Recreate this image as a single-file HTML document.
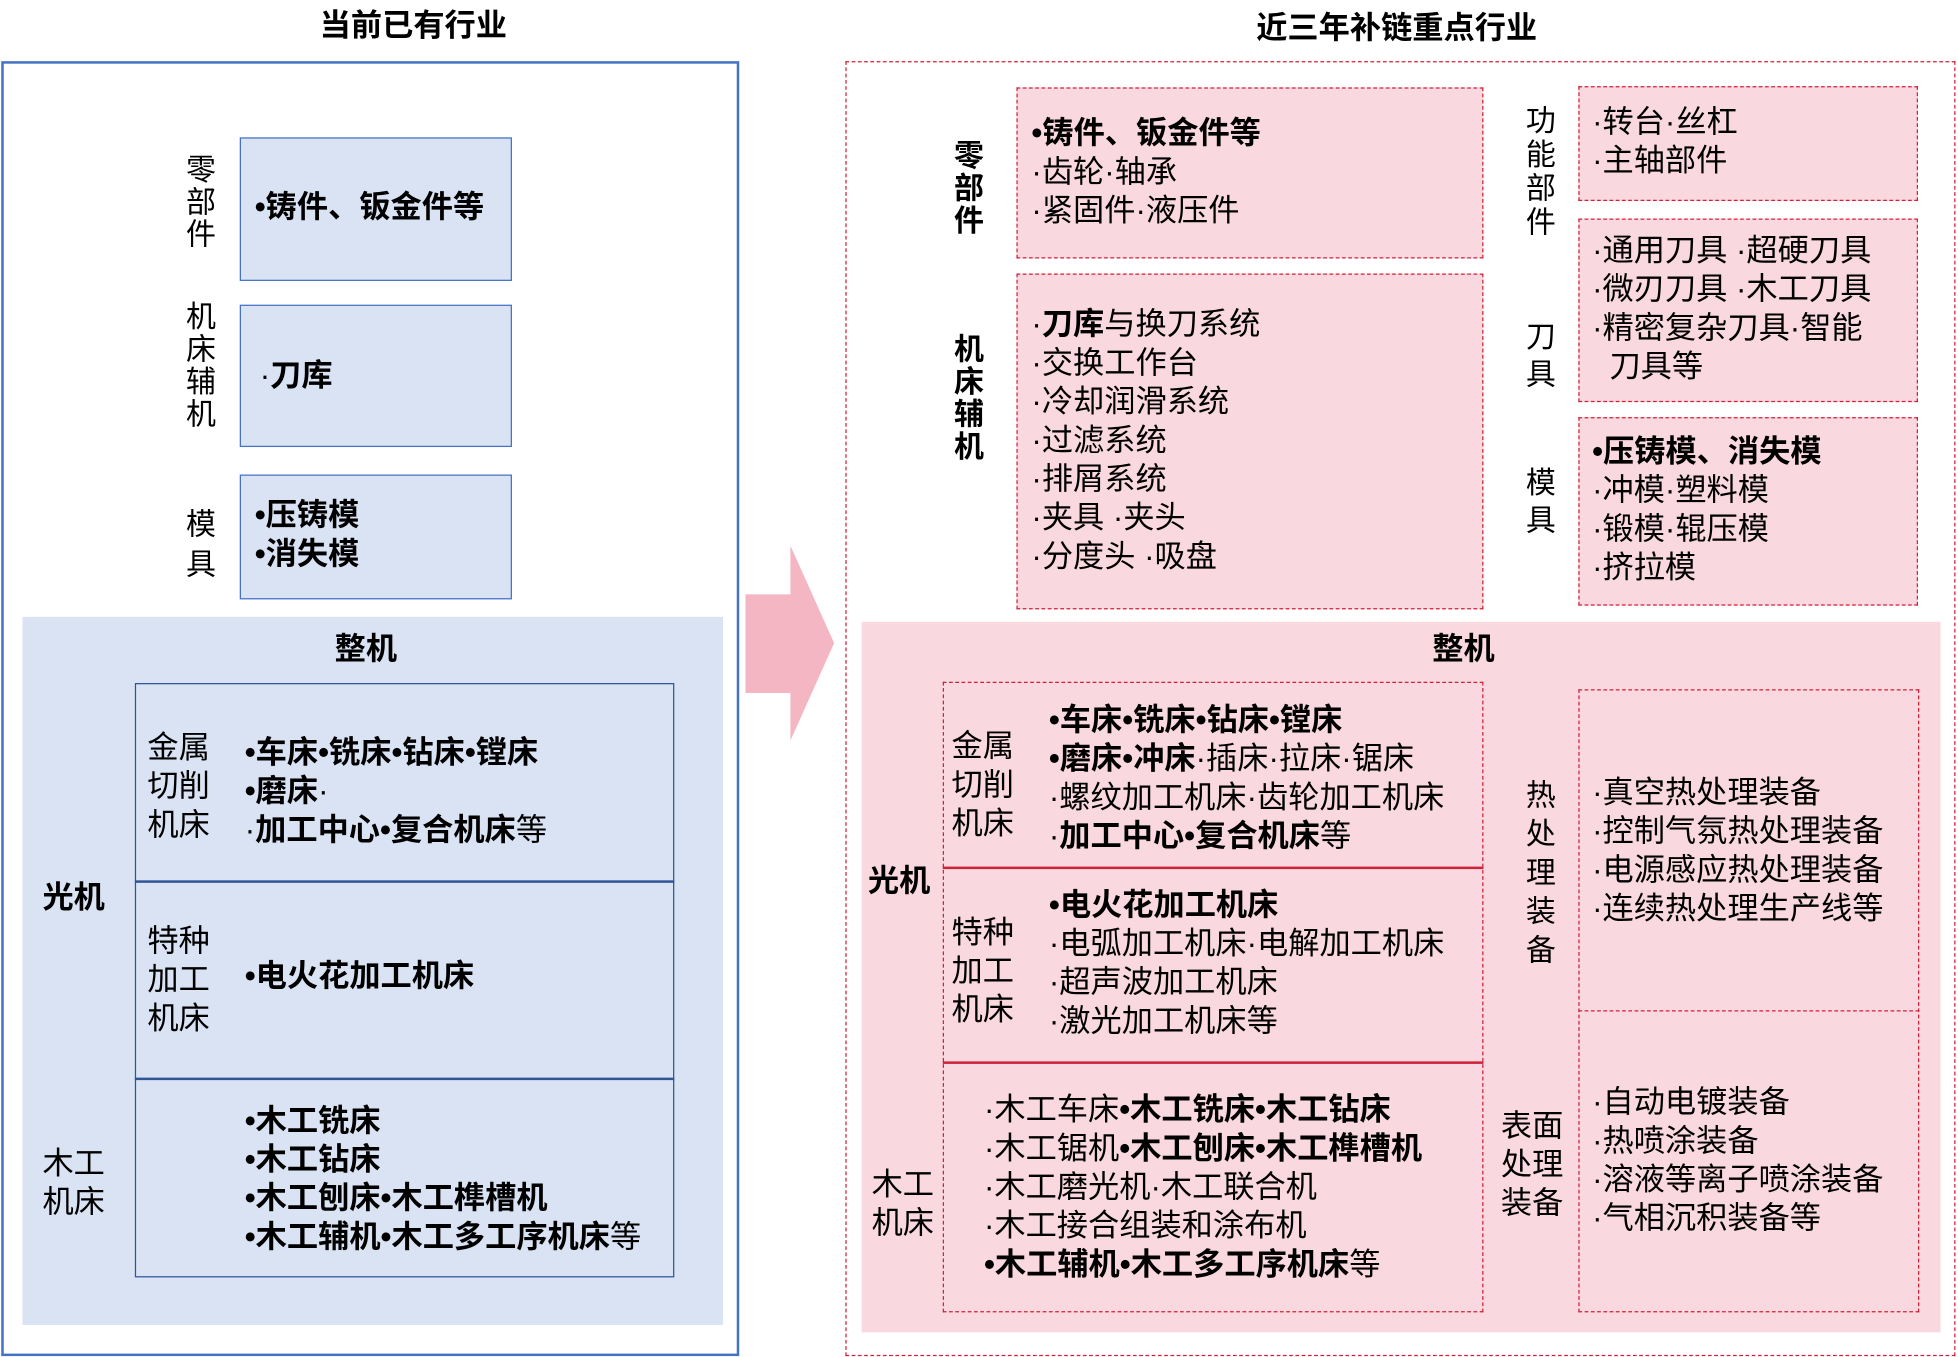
<!DOCTYPE html>
<html><head><meta charset="utf-8"><style>
html,body{margin:0;padding:0;background:#fff;width:1958px;height:1357px;overflow:hidden}
#w{position:absolute;left:0;top:0;width:1568px;height:1087px;transform:scale(1.2487);transform-origin:0 0;font-family:"Liberation Sans","Noto Sans CJK SC",sans-serif;color:#000}
.a{position:absolute;box-sizing:border-box}
.t{position:absolute;white-space:nowrap;font-size:25px;line-height:31px}
.b{font-weight:bold}
.v{position:absolute;font-size:24px;line-height:26px;width:26px;text-align:center;white-space:normal;word-break:break-all}
.bl{background:#DAE3F3;border:1.5px solid #4472C4}
.pk{background:#F9D9DF;border:1.5px dashed #D0213A}
</style></head><body><div id="w">
<div class="t b" style="left:256px;top:6px;font-size:25px">当前已有行业</div>
<div class="a" style="left:1px;top:49px;width:591px;height:1037px;border:2px solid #4472C4"></div>
<div class="a bl" style="left:192px;top:110px;width:218px;height:115px"></div>
<div class="t b" style="left:204px;top:151px">•铸件、钣金件等</div>
<div class="v" style="left:148px;top:124px">零部件</div>
<div class="a bl" style="left:192px;top:244px;width:218px;height:114px"></div>
<div class="t b" style="left:208px;top:286px"><span style="font-weight:normal">·</span>刀库</div>
<div class="v" style="left:148px;top:242px">机床辅机</div>
<div class="a bl" style="left:192px;top:380px;width:218px;height:100px"></div>
<div class="t b" style="left:204px;top:398px">•压铸模<br>•消失模</div>
<div class="v" style="left:148px;top:405px;line-height:32px">模具</div>
<div class="a" style="left:18px;top:494px;width:561px;height:567px;background:#DAE3F3"></div>
<div class="t b" style="left:268px;top:505px">整机</div>
<div class="a" style="left:108px;top:547px;width:432px;height:476px;border:1.5px solid #2F5597"></div>
<div class="a" style="left:108px;top:705px;width:432px;height:2px;background:#2F5597"></div>
<div class="a" style="left:108px;top:863px;width:432px;height:1.5px;background:#2F5597"></div>
<div class="t b" style="left:34px;top:704px">光机</div>
<div class="t" style="left:118px;top:584px">金属<br>切削<br>机床</div>
<div class="t b" style="left:196px;top:588px">•车床•铣床•钻床•镗床<br>•磨床<span style="font-weight:normal">·</span><br><span style="font-weight:normal">·</span>加工中心•复合机床<span style="font-weight:normal">等</span></div>
<div class="t" style="left:118px;top:739px">特种<br>加工<br>机床</div>
<div class="t b" style="left:196px;top:767px">•电火花加工机床</div>
<div class="t" style="left:34px;top:917px">木工<br>机床</div>
<div class="t b" style="left:196px;top:883px">•木工铣床<br>•木工钻床<br>•木工刨床•木工榫槽机<br>•木工辅机•木工多工序机床<span style="font-weight:normal">等</span></div>
<svg class="a" style="left:596px;top:436px" width="74" height="160"><polygon points="1,40 37,40 37,1 72,79 37,157 37,119 1,119" fill="#F4B6C2"/></svg>
<div class="t b" style="left:1006px;top:8px;font-size:25px">近三年补链重点行业</div>
<div class="a" style="left:677px;top:49px;width:889px;height:1037px;border:1.5px dashed #D0213A"></div>
<div class="a pk" style="left:814px;top:70px;width:374px;height:137px"></div>
<div class="v b" style="left:763px;top:113px">零部件</div>
<div class="t" style="left:826px;top:92px"><b>•铸件、钣金件等</b><br>·齿轮·轴承<br>·紧固件·液压件</div>
<div class="a pk" style="left:814px;top:219px;width:374px;height:269px"></div>
<div class="v b" style="left:763px;top:268px">机床辅机</div>
<div class="t" style="left:826px;top:245px">·<b>刀库</b>与换刀系统<br>·交换工作台<br>·冷却润滑系统<br>·过滤系统<br>·排屑系统<br>·夹具 ·夹头<br>·分度头 ·吸盘</div>
<div class="v" style="left:1221px;top:84px;line-height:27px">功能部件</div>
<div class="a pk" style="left:1264px;top:69px;width:272px;height:92px"></div>
<div class="t" style="left:1275px;top:83px">·转台·丝杠<br>·主轴部件</div>
<div class="v" style="left:1221px;top:256px;line-height:30px">刀具</div>
<div class="a pk" style="left:1264px;top:175px;width:272px;height:147px"></div>
<div class="t" style="left:1275px;top:186px">·通用刀具 ·超硬刀具<br>·微刃刀具 ·木工刀具<br>·精密复杂刀具·智能<br>&nbsp;&nbsp;刀具等</div>
<div class="v" style="left:1221px;top:373px;line-height:30px">模具</div>
<div class="a pk" style="left:1264px;top:334px;width:272px;height:151px"></div>
<div class="t" style="left:1275px;top:347px"><b>•压铸模、消失模</b><br>·冲模·塑料模<br>·锻模·辊压模<br>·挤拉模</div>
<div class="a" style="left:690px;top:498px;width:864px;height:569px;background:#F9D9DF"></div>
<div class="t b" style="left:1147px;top:505px">整机</div>
<div class="a" style="left:755px;top:546px;width:433px;height:505px;border:1.5px dashed #D0213A"></div>
<div class="a" style="left:755px;top:694px;width:433px;height:2px;background:#D0213A"></div>
<div class="a" style="left:755px;top:850px;width:433px;height:2px;background:#D0213A"></div>
<div class="t b" style="left:695px;top:691px">光机</div>
<div class="t" style="left:762px;top:583px">金属<br>切削<br>机床</div>
<div class="t" style="left:840px;top:562px"><b>•车床•铣床•钻床•镗床</b><br><b>•磨床•冲床</b>·插床·拉床·锯床<br>·螺纹加工机床·齿轮加工机床<br>·<b>加工中心•复合机床</b>等</div>
<div class="t" style="left:762px;top:732px">特种<br>加工<br>机床</div>
<div class="t" style="left:840px;top:710px"><b>•电火花加工机床</b><br>·电弧加工机床·电解加工机床<br>·超声波加工机床<br>·激光加工机床等</div>
<div class="t" style="left:698px;top:934px">木工<br>机床</div>
<div class="t" style="left:788px;top:874px">·木工车床<b>•木工铣床•木工钻床</b><br>·木工锯机<b>•木工刨床•木工榫槽机</b><br>·木工磨光机·木工联合机<br>·木工接合组装和涂布机<br><b>•木工辅机•木工多工序机床</b>等</div>
<div class="v" style="left:1221px;top:622px;line-height:31px">热处理装备</div>
<div class="t" style="left:1202px;top:887px">表面<br>处理<br>装备</div>
<div class="a" style="left:1264px;top:552px;width:273px;height:499px;border:1.5px dashed #D0213A"></div>
<div class="a" style="left:1264px;top:809px;width:273px;height:0;border-top:1.5px dashed #D0213A"></div>
<div class="t" style="left:1275px;top:620px">·真空热处理装备<br>·控制气氛热处理装备<br>·电源感应热处理装备<br>·连续热处理生产线等</div>
<div class="t" style="left:1275px;top:868px">·自动电镀装备<br>·热喷涂装备<br>·溶液等离子喷涂装备<br>·气相沉积装备等</div>
</div></body></html>
